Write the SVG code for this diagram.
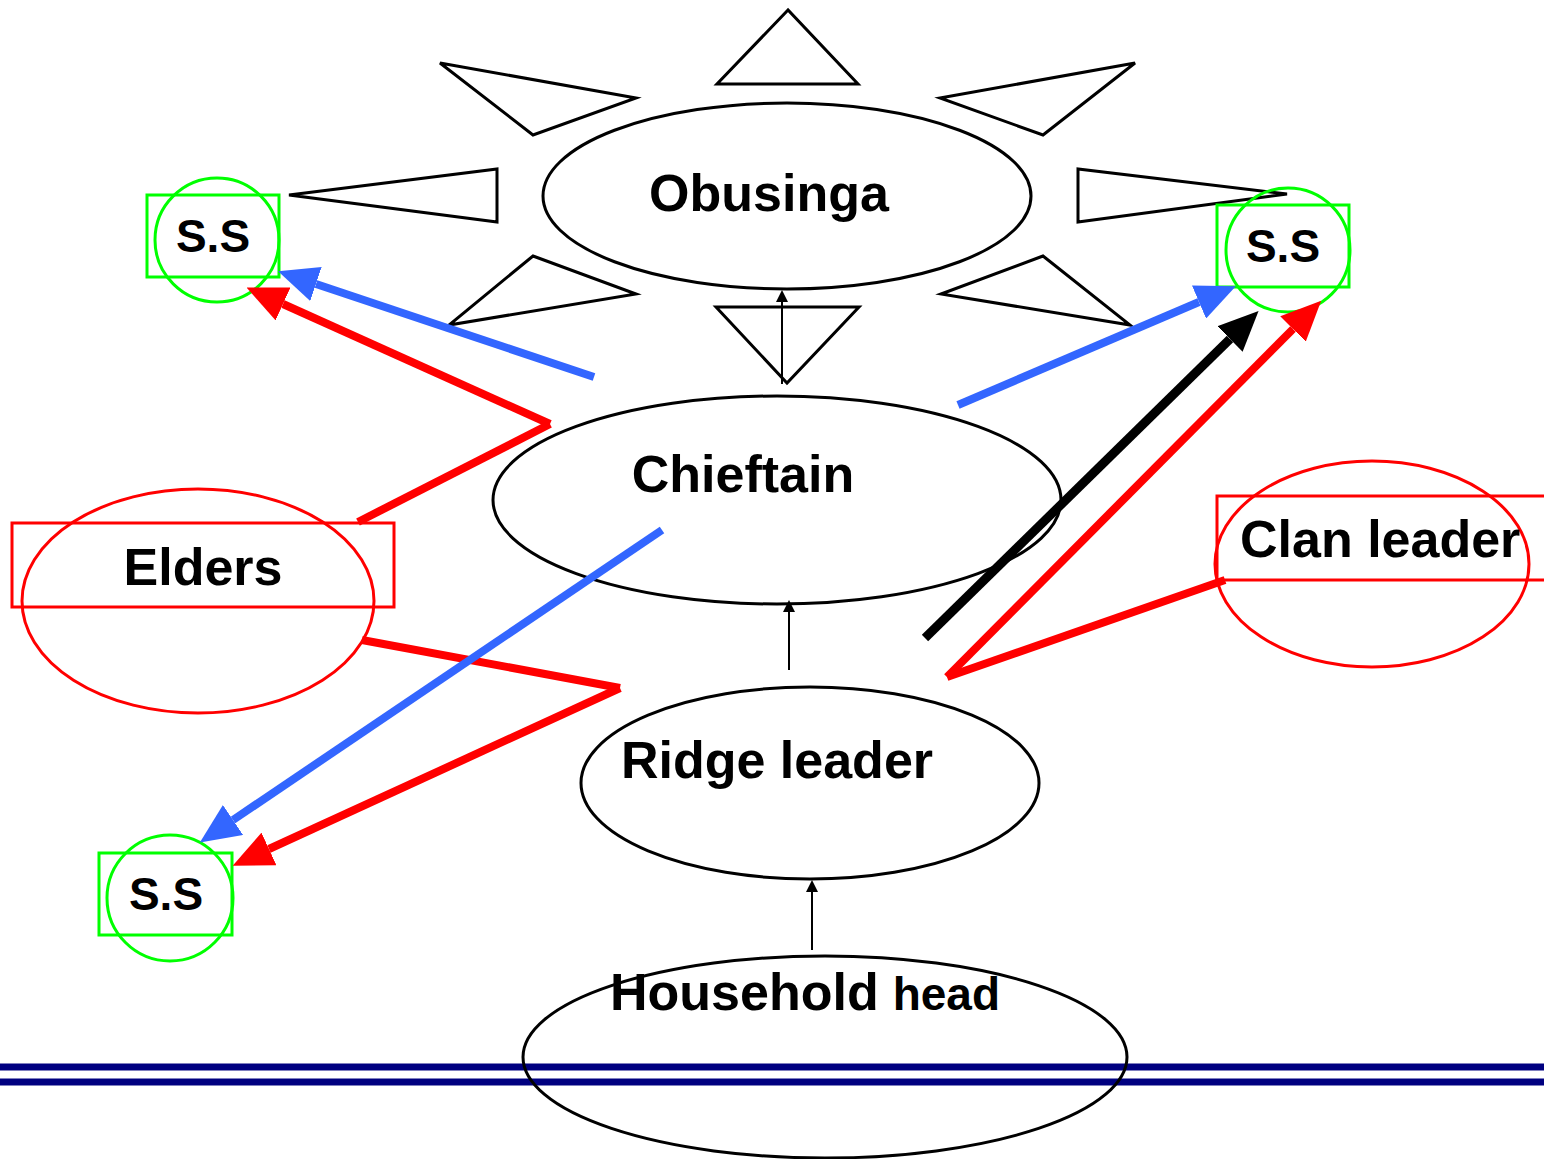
<svg xmlns="http://www.w3.org/2000/svg" width="1544" height="1159" viewBox="0 0 1544 1159">
<style>
.lbl{font-family:"Liberation Sans",Arial,sans-serif;font-weight:bold;fill:#000}
.big{font-size:52px}
.ss{font-size:46px}
.blk{fill:none;stroke:#000;stroke-width:3}
.tri{fill:none;stroke:#000;stroke-width:3;stroke-linejoin:miter}
.grn{fill:none;stroke:#00FF00;stroke-width:3}
.redn{fill:none;stroke:#FF0000;stroke-width:3}
.cr{fill:none;stroke:#FF0000;stroke-width:8}
.cb{fill:none;stroke:#3366FF;stroke-width:8}
.ck{fill:none;stroke:#000;stroke-width:9}
.thin{fill:none;stroke:#000;stroke-width:2}
</style>
<defs>
<marker id="hr" markerUnits="userSpaceOnUse" markerWidth="40" markerHeight="36" viewBox="0 0 40 36" refX="0" refY="18" orient="auto"><path d="M0,0 L40,18 L0,36 z" fill="#FF0000"/></marker>
<marker id="hb" markerUnits="userSpaceOnUse" markerWidth="40" markerHeight="36" viewBox="0 0 40 36" refX="0" refY="18" orient="auto"><path d="M0,0 L40,18 L0,36 z" fill="#3366FF"/></marker>
<marker id="hk" markerUnits="userSpaceOnUse" markerWidth="40" markerHeight="36" viewBox="0 0 40 36" refX="0" refY="18" orient="auto"><path d="M0,0 L40,18 L0,36 z" fill="#000"/></marker>
<marker id="ht" markerUnits="userSpaceOnUse" markerWidth="12" markerHeight="12" viewBox="0 0 12 12" refX="0" refY="6" orient="auto"><path d="M0,0 L12,6 L0,12 z" fill="#000"/></marker>
</defs>
<rect x="0" y="0" width="1544" height="1159" fill="#fff"/>
<g id="ground">
<line x1="0" y1="1067" x2="1544" y2="1067" stroke="#000080" stroke-width="7"/>
<line x1="0" y1="1082" x2="1544" y2="1082" stroke="#000080" stroke-width="7"/>
</g>
<g id="sun-rays">
<polygon class="tri" points="788,10 717,84 858,84"/>
<polygon class="tri" points="440,63 636,98 533,135"/>
<polygon class="tri" points="1135,63 940,98 1043,135"/>
<polygon class="tri" points="289,195 497,169 497,222"/>
<polygon class="tri" points="1078,169 1078,222 1287,194"/>
<polygon class="tri" points="533,256 636,294 449,325"/>
<polygon class="tri" points="1043,256 941,294 1130,325"/>
<polygon class="tri" points="716,307 859,307 787,383"/>
</g>
<g id="node-obusinga">
<ellipse class="blk" cx="787" cy="196" rx="244" ry="93"/>
<text class="lbl big" x="769" y="211" text-anchor="middle">Obusinga</text>
</g>
<g id="node-chieftain">
<ellipse class="blk" cx="777" cy="500" rx="284" ry="104"/>
<text class="lbl big" x="743" y="492" text-anchor="middle">Chieftain</text>
</g>
<g id="node-ridge-leader">
<ellipse class="blk" cx="810" cy="783" rx="229" ry="96"/>
<text class="lbl big" x="777" y="778" text-anchor="middle">Ridge leader</text>
</g>
<g id="node-household-head">
<ellipse class="blk" cx="825" cy="1057" rx="302" ry="101"/>
<text class="lbl" x="610" y="1010" font-size="52">Household<tspan font-size="46" dx="14">head</tspan></text>
</g>
<g id="node-elders">
<ellipse class="redn" cx="198" cy="601" rx="176" ry="112"/>
<rect class="redn" x="12" y="523" width="382" height="84"/>
<text class="lbl big" x="203" y="585" text-anchor="middle">Elders</text>
</g>
<g id="node-clan-leader">
<ellipse class="redn" cx="1372" cy="564" rx="157" ry="103"/>
<rect class="redn" x="1217" y="496" width="340" height="84"/>
<text class="lbl big" x="1240" y="557">Clan leader</text>
</g>
<g id="node-ss-left">
<rect class="grn" x="147" y="195" width="132" height="82"/>
<circle class="grn" cx="217" cy="240" r="62"/>
<text class="lbl ss" x="213" y="252" text-anchor="middle">S.S</text>
</g>
<g id="node-ss-right">
<rect class="grn" x="1217" y="205" width="132" height="82"/>
<circle class="grn" cx="1288" cy="250" r="62"/>
<text class="lbl ss" x="1283" y="262" text-anchor="middle">S.S</text>
</g>
<g id="node-ss-bottom">
<rect class="grn" x="99" y="853" width="133" height="82"/>
<circle class="grn" cx="170" cy="898" r="63"/>
<text class="lbl ss" x="166" y="910" text-anchor="middle">S.S</text>
</g>
<g id="connectors">
<line class="thin" x1="782" y1="384" x2="782" y2="302" marker-end="url(#ht)"/>
<line class="thin" x1="789" y1="670" x2="789" y2="612" marker-end="url(#ht)"/>
<line class="thin" x1="812" y1="950" x2="812" y2="892" marker-end="url(#ht)"/>
<line class="cr" x1="358" y1="522" x2="550" y2="424"/>
<line class="cr" x1="550" y1="424" x2="283" y2="304" marker-end="url(#hr)"/>
<line class="cb" x1="594" y1="377" x2="316" y2="284" marker-end="url(#hb)"/>
<line class="cb" x1="958" y1="405" x2="1199" y2="302" marker-end="url(#hb)"/>
<line class="ck" x1="925" y1="638" x2="1230" y2="339" marker-end="url(#hk)"/>
<line class="cr" x1="1225" y1="580" x2="947" y2="677"/>
<line class="cr" x1="947" y1="677" x2="1293" y2="329" marker-end="url(#hr)"/>
<line class="cr" x1="362" y1="640" x2="620" y2="688"/>
<line class="cr" x1="620" y1="688" x2="269" y2="849" marker-end="url(#hr)"/>
<line class="cb" x1="662" y1="530" x2="233" y2="820" marker-end="url(#hb)"/>
</g>
</svg>
